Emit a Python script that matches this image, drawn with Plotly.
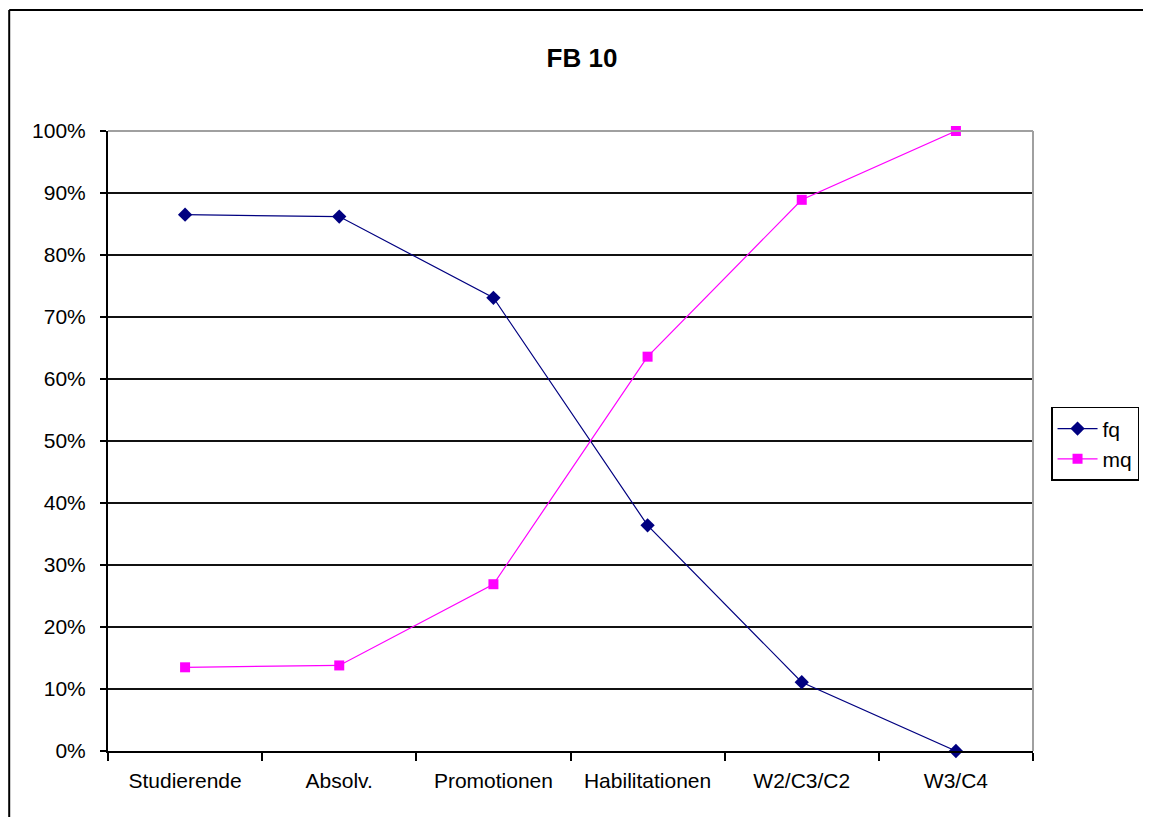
import plotly.graph_objects as go

categories = ["Studierende", "Absolv.", "Promotionen", "Habilitationen", "W2/C3/C2", "W3/C4"]
fq = [0.865, 0.862, 0.731, 0.364, 0.111, 0.0]
mq = [0.135, 0.138, 0.269, 0.636, 0.889, 1.0]
y_ticks = [0, 0.1, 0.2, 0.3, 0.4, 0.5, 0.6, 0.7, 0.8, 0.9, 1.0]
y_tick_labels = ["0%", "10%", "20%", "30%", "40%", "50%", "60%", "70%", "80%", "90%", "100%"]

FONT = "Liberation Sans, Arial, sans-serif"

fig = go.Figure()
fig.add_trace(go.Scatter(
    x=categories, y=fq, name="fq", mode="lines+markers",
    line=dict(color="#000080", width=1.2),
    marker=dict(symbol="diamond", size=11, color="#000080"),
    cliponaxis=False,
))
fig.add_trace(go.Scatter(
    x=categories, y=mq, name="mq", mode="lines+markers",
    line=dict(color="#FF00FF", width=1.2),
    marker=dict(symbol="square", size=10, color="#FF00FF"),
    cliponaxis=False,
))

fig.update_layout(
    width=1151, height=817,
    margin=dict(l=100, r=126, t=123, b=74),
    paper_bgcolor="white", plot_bgcolor="white",
    font=dict(family=FONT, size=21, color="black"),
    title=dict(text="<b>FB 10</b>", x=0.5124, xref="paper", xanchor="center",
               y=1 - 50 / 817, yref="container", yanchor="middle",
               font=dict(family=FONT, size=26, color="black")),
    hovermode=False,
    legend=dict(x=1.0195, xanchor="left", y=0.555, yanchor="top",
                bordercolor="black", borderwidth=1.5, bgcolor="white",
                font=dict(family=FONT, size=21), tracegroupgap=0,
                itemwidth=40),
    showlegend=True,
)

fig.update_xaxes(
    type="category", tickson="boundaries", ticks="outside", ticklen=8,
    tickwidth=2, tickcolor="black", showline=True, linecolor="black", linewidth=2,
    showgrid=False, zeroline=False, ticklabelstandoff=10,
    range=[-0.5, len(categories) - 0.5],
)
fig.update_yaxes(
    range=[0, 1], tickvals=y_ticks, ticktext=y_tick_labels,
    ticks="outside", ticklen=6, tickwidth=2, tickcolor="black",
    showline=True, linecolor="black", linewidth=2,
    showgrid=True, gridcolor="#111111", gridwidth=1.5, zeroline=False,
    ticklabelstandoff=10,
)

# plot-area frame (gray top/right)
fig.add_shape(type="line", xref="paper", yref="paper", x0=0, x1=1, y0=1, y1=1,
              line=dict(color="#a0a0a0", width=2), layer="above")
fig.add_shape(type="line", xref="paper", yref="paper", x0=1, x1=1, y0=0, y1=1,
              line=dict(color="#a0a0a0", width=2), layer="above")
# outer chart border (top and left edges visible)
fig.add_shape(type="line", xref="paper", yref="paper",
              x0=-0.1068, x1=1.3, y0=1.1952, y1=1.1952,
              line=dict(color="black", width=2), layer="below")
fig.add_shape(type="line", xref="paper", yref="paper",
              x0=-0.1068, x1=-0.1068, y0=-0.3, y1=1.1952,
              line=dict(color="black", width=2), layer="below")

fig.write_html("out.html")
